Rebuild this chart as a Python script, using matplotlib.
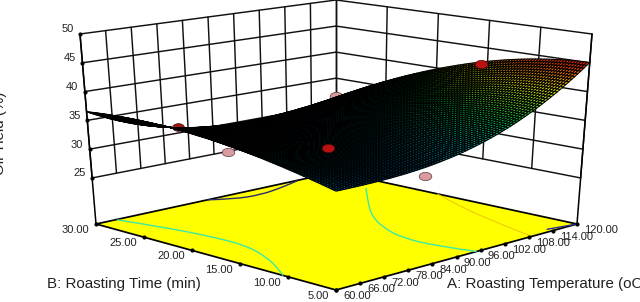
import numpy as np
import matplotlib
matplotlib.use("Agg")
import matplotlib.pyplot as plt
from matplotlib.collections import PolyCollection
from matplotlib.colors import LinearSegmentedColormap
from matplotlib.markers import MarkerStyle
from matplotlib.patches import PathPatch
from matplotlib.path import Path
from matplotlib.transforms import Affine2D

plt.rcParams["font.family"] = ["Liberation Sans", "DejaVu Sans"]

# factor levels
temp_ticks = [60, 66, 72, 78, 84, 90, 96, 102, 108, 114, 120]
time_ticks = [5, 10, 15, 20, 25, 30]
yield_ticks = [25, 30, 35, 40, 45, 50]

# response read at the table nodes
temp_nodes = [60, 70, 80, 90, 100, 110, 120]
time_nodes = [5, 10, 15, 20, 25, 30]
yield_table = [
    [32.7, 32.7, 33.1, 34.2, 36.2, 39.9, 45.0],
    [34.3, 33.6, 33.4, 34.2, 36.3, 39.7, 44.4],
    [35.9, 34.4, 33.6, 33.9, 35.4, 38.4, 42.5],
    [36.8, 34.6, 33.2, 32.9, 33.8, 36.3, 39.8],
    [36.9, 34.3, 32.4, 31.7, 32.2, 33.7, 36.0],
    [36.5, 33.4, 31.2, 30.0, 29.8, 30.4, 31.3],
]

# design points: temperature, time, yield
above_temp = [109.2, 68.8]
above_time = [11.25, 9.5]
above_yield = [44.6, 36.7]
behind_dark_temp = [73.2]
behind_dark_time = [26.4]
behind_dark_yield = [33.6]
below_temp = [90.0, 114.0, 63.0]
below_time = [8.5, 27.5, 17.1]
below_yield = [29.2, 33.2, 34.1]

# contour lines on the floor
cyan_left_temp = [65.1, 67.9, 69.4, 69.5, 66.2, 62.4, 60.0]
cyan_left_time = [29.9, 25.8, 21.7, 18.2, 14.7, 12.0, 10.5]
cyan_right_temp = [114.7, 107.7, 100.3, 95.6, 92.9, 93.0, 95.0]
cyan_right_time = [24.7, 21.6, 18.1, 14.9, 11.8, 8.3, 5.0]
orange_temp = [120.0, 115.4, 112.1, 108.8]
orange_time = [19.5, 14.9, 10.4, 5.2]
navy_temp = [87.9, 91.7, 97.5, 105.0, 110.0]
navy_time = [30.0, 28.9, 28.5, 29.2, 29.9]

floor_level = 17.0

# box corners on the canvas: front, right, left, back
floor_x = [336, 577, 96, 336]
floor_y = [290, 224, 224, 172]
top_x = [336, 592, 80, 336]
top_y = [82, 34, 34, 0]


def project(temp, time, value):
    a = (np.asarray(temp, float) - 60) / 60
    b = (np.asarray(time, float) - 5) / 25
    t = (np.asarray(value, float) - floor_level) / (50 - floor_level)
    w = [(1 - a) * (1 - b), a * (1 - b), (1 - a) * b, a * b]
    xf = sum(wi * c for wi, c in zip(w, floor_x))
    yf = sum(wi * c for wi, c in zip(w, floor_y))
    xt = sum(wi * c for wi, c in zip(w, top_x))
    yt = sum(wi * c for wi, c in zip(w, top_y))
    return xf + (xt - xf) * t, yf + (yt - yf) * t


def line(temp, time, value, **kw):
    n = max(np.size(temp), np.size(time), np.size(value))
    x, y = project(np.full(n, temp) if np.size(temp) == 1 else temp,
                   np.full(n, time) if np.size(time) == 1 else time,
                   np.full(n, value) if np.size(value) == 1 else value)
    ax.plot(x, y, solid_capstyle="round", **kw)


def contour(temp, time, color, lw):
    # quadratic pieces between the read points so the line has no kinks
    x, y = project(temp, time, floor_level)
    pts = np.column_stack([x, y])
    verts = [pts[0]]
    codes = [Path.MOVETO]
    for k in range(1, len(pts) - 1):
        end = pts[k + 1] if k == len(pts) - 2 else (pts[k] + pts[k + 1]) / 2
        verts += [pts[k], end]
        codes += [Path.CURVE3, Path.CURVE3]
    ax.add_patch(PathPatch(Path(verts, codes), fc="none", ec=color, lw=lw, zorder=3))


def refine(temp_fine, time_fine):
    # smooth the table onto the fine mesh, first along temperature, then time
    table = np.array(yield_table)
    rows = [np.polyval(np.polyfit(temp_nodes, r, 3), temp_fine) for r in table]
    rows = np.array(rows)
    cols = [np.polyval(np.polyfit(time_nodes, rows[:, j], 3), time_fine)
            for j in range(len(temp_fine))]
    return np.array(cols).T


fig = plt.figure(figsize=(6.4, 3.02), dpi=100)
ax = fig.add_axes([0, 0, 1, 1])
ax.set_xlim(0, 640)
ax.set_ylim(302, 0)
ax.axis("off")

# walls
wall = dict(color="#111111", lw=1.05, zorder=1)
for z in yield_ticks:
    line([60, 120], 30, z, **wall)
    line(120, [30, 5], z, **wall)
for t in temp_ticks:
    line(t, 30, [25, 50], **wall)
for t in time_ticks:
    line(120, t, [25, 50], **wall)
line(60, 30, [floor_level, 50], color="black", lw=1.1, zorder=1)
line(120, 5, [floor_level, 50], color="black", lw=1.1, zorder=1)
line(120, 30, [floor_level, 25], color="black", lw=1.1, zorder=1)

# floor
fx, fy = project([60, 120, 120, 60], [5, 5, 30, 30], floor_level)
ax.fill(fx, fy, color="#ffff00", lw=0, zorder=2)
ax.plot(list(fx) + [fx[0]], list(fy) + [fy[0]], color="black", lw=1.25, zorder=3)

contour(cyan_left_temp, cyan_left_time, "#3ce8a8", 1.0)
contour(cyan_right_temp, cyan_right_time, "#3ce8a8", 1.0)
contour(orange_temp, orange_time, "#ecc408", 0.7)
contour(navy_temp, navy_time, "#2b2b70", 1.0)
line([114, 120], [5.6, 5.0], floor_level, color="#2b2b90", lw=1.0, zorder=3)

# flattened discs for the design points
disc = MarkerStyle("o", transform=Affine2D().scale(1.3, 0.85))

# points hidden by the surface are drawn first
bx, by = project(below_temp, below_time, below_yield)
ax.plot(bx, by, linestyle="none", marker=disc, ms=7, mfc="#d99aa0", mec="#5a3a3a", mew=0.5, zorder=4)
dx, dy = project(behind_dark_temp, behind_dark_time, behind_dark_yield)
ax.plot(dx, dy, linestyle="none", marker=disc, ms=6.5, mfc="#a01818", mec="#3a0a0a", mew=0.5, zorder=4)

# surface mesh
steps = 90
temp_fine = np.linspace(60, 120, steps + 1)
time_fine = np.linspace(5, 30, steps + 1)
zz = refine(temp_fine, time_fine)
tt, bb = np.meshgrid(temp_fine, time_fine)
sx, sy = project(tt, bb, zz)
polys = []
vals = []
order = []
for i in range(steps):
    for j in range(steps):
        polys.append([(sx[i, j], sy[i, j]), (sx[i, j + 1], sy[i, j + 1]),
                      (sx[i + 1, j + 1], sy[i + 1, j + 1]), (sx[i + 1, j], sy[i + 1, j])])
        vals.append(zz[i:i + 2, j:j + 2].mean())
        order.append(i + j)
idx = np.argsort(-np.array(order), kind="stable")
polys = [polys[k] for k in idx]
vals = np.array(vals)[idx]
cmap = LinearSegmentedColormap.from_list(
    "response", ["#0000ff", "#00c8ff", "#00e050", "#f0f000", "#ff2000"])
mesh = PolyCollection(polys, array=vals, cmap=cmap, edgecolors="black",
                      linewidths=0.72, zorder=5)
mesh.set_clim(vals.min(), vals.max())
ax.add_collection(mesh)

# points above the surface
ax_, ay_ = project(above_temp, above_time, above_yield)
ax.plot(ax_, ay_, linestyle="none", marker=disc, ms=7, mfc="#b81212", mec="#5a0808", mew=0.5, zorder=6)

# ticks
gx, gy = project(60, 30, yield_ticks)
ax.plot(gx, gy, "o", ms=2, color="black", zorder=3)
for x, y, z in zip(gx, gy, yield_ticks):
    ax.text(x - 6.5, y - 4.5, str(z), ha="right", va="center", fontsize=8, color="#222222")
tx, ty = project(60, time_ticks, floor_level)
ax.plot(tx, ty, "o", ms=2, color="black", zorder=3)
for x, y, t in zip(tx, ty, time_ticks):
    ax.text(x - 7, y + 6, f"{t:.2f}", ha="right", va="center", fontsize=8, color="#222222")
tx, ty = project(temp_ticks, 5, floor_level)
ax.plot(tx, ty, "o", ms=2, color="black", zorder=3)
for x, y, t in zip(tx, ty, temp_ticks):
    ax.text(x + 7, y + 6, f"{t:.2f}", ha="left", va="center", fontsize=8, color="#222222")

# axis titles
ax.text(47, 284, "B: Roasting Time (min)", ha="left", va="center", fontsize=10.9, color="#222222")
ax.text(447, 284, "A: Roasting Temperature (oC)", ha="left", va="center", fontsize=10.9, color="#222222")
ax.text(0, 133, "Oil Yield (%)", rotation=90, ha="center", va="center", fontsize=10.9, color="#222222")

fig.savefig("out.png", dpi=100)
